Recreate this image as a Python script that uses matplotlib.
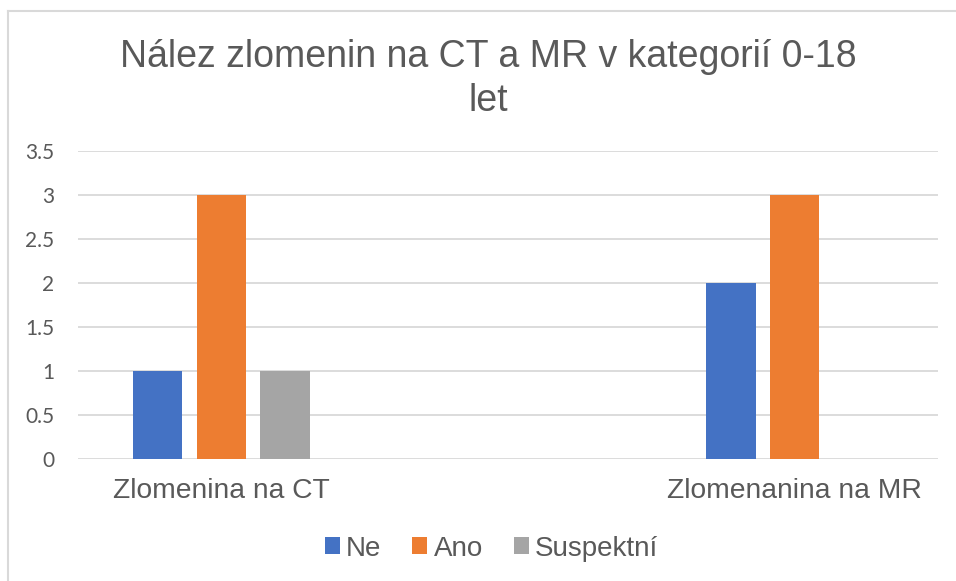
import numpy as np
import matplotlib
matplotlib.use("Agg")
import matplotlib.pyplot as plt
from matplotlib.patches import Patch
from matplotlib.lines import Line2D

categories = ["Zlomenina na CT", "", "Zlomenanina na MR"]
series_names = ["Ne", "Ano", "Suspektní"]
ne = [1, np.nan, 2]
ano = [3, np.nan, 3]
suspektni = [1, np.nan, 0]
yticks = [0, 0.5, 1, 1.5, 2, 2.5, 3, 3.5]
ytick_labels = ["0", "0.5", "1", "1.5", "2", "2.5", "3", "3.5"]
title = "Nález zlomenin na CT a MR v kategorií 0-18\nlet"

colors = ["#4472C4", "#ED7D31", "#A5A5A5"]
text_color = "#595959"
grid_color = "#D9D9D9"

W, H = 956, 581
fig = plt.figure(figsize=(W / 100, H / 100), dpi=100)
ax = fig.add_axes([78 / W, 1 - 459 / H, (938 - 78) / W, (459 - 151) / H])

x = np.arange(len(categories))
offsets = [-0.222, 0.0, 0.222]
width = 0.172
for vals, off, c, name in zip([ne, ano, suspektni], offsets, colors, series_names):
    ax.bar(x + off, vals, width=width, color=c, label=name, zorder=3)

ax.set_xlim(-0.5, len(categories) - 0.5)
ax.set_ylim(0, 3.5)
ax.set_yticks(yticks)
ax.set_yticklabels(ytick_labels, fontfamily="Lato", fontsize=15, color=text_color)
ax.set_xticks(x)
ax.set_xticklabels(categories, fontfamily="Liberation Sans", fontsize=20.3, color=text_color)
ax.tick_params(axis="y", length=0, pad=17)
ax.tick_params(axis="x", length=0, pad=14)
for s in ax.spines.values():
    s.set_visible(False)
ax.yaxis.grid(True, color=grid_color, linewidth=1.3, zorder=0)
ax.set_axisbelow(True)

fig.text(488 / W, 1 - 111 / H, title, ha="center", va="baseline",
         fontfamily="Liberation Sans", fontsize=27, color=text_color,
         linespacing=1.3, multialignment="center")

handles = [Patch(facecolor=c, edgecolor="none") for c in colors]
fig.legend(handles, series_names, loc="center", bbox_to_anchor=(491.5 / W, 1 - 548.5 / H),
           ncol=3, frameon=False, prop={"family": "Liberation Sans", "size": 20},
           labelcolor=text_color, handlelength=0.54, handleheight=0.54,
           handletextpad=0.22, columnspacing=1.12, borderpad=0)

# chart area border (left and top visible)
fig.add_artist(Line2D([8 / W, 8 / W], [0, 1 - 11 / H], color=grid_color, linewidth=1.5,
                      transform=fig.transFigure))
fig.add_artist(Line2D([8 / W, 1], [1 - 11 / H, 1 - 11 / H], color=grid_color, linewidth=1.5,
                      transform=fig.transFigure))

fig.savefig("out.png", dpi=100, facecolor="white")
